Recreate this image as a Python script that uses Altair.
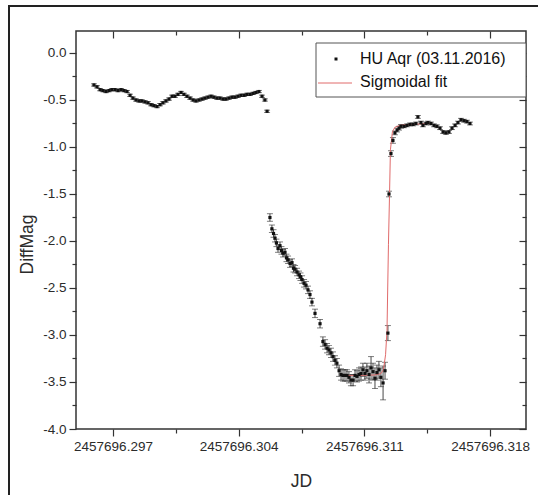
import altair as alt
import pandas as pd

JD0 = 2457696.0

# Out-of-eclipse (bright phase) photometry: JD - 2457696, DiffMag
bright_t = [0.29594, 0.29611, 0.29628, 0.29644, 0.29661, 0.29678, 0.29694, 0.29711, 0.29728, 0.29745,
            0.29761, 0.29778, 0.29795, 0.29811, 0.29828, 0.29845, 0.29861, 0.29878, 0.29895, 0.29912,
            0.29928, 0.29945, 0.29962, 0.29978, 0.29995, 0.30012, 0.30029, 0.30045, 0.30062, 0.30079,
            0.30095, 0.30112, 0.30129, 0.30146, 0.30162, 0.30179, 0.30196, 0.30212, 0.30229, 0.30246,
            0.30262, 0.30279, 0.30296, 0.30313, 0.30329, 0.30346, 0.30363, 0.30379, 0.30396, 0.30413,
            0.30430, 0.30446, 0.30463, 0.30480, 0.30496, 0.30513, 0.30530, 0.30546, 0.30558]
bright_mag = [-0.34, -0.36, -0.39, -0.40, -0.41, -0.40, -0.39, -0.39, -0.40, -0.39,
              -0.40, -0.41, -0.45, -0.48, -0.50, -0.51, -0.51, -0.52, -0.53, -0.55,
              -0.56, -0.57, -0.55, -0.53, -0.51, -0.49, -0.46, -0.46, -0.44, -0.42,
              -0.44, -0.46, -0.48, -0.50, -0.51, -0.50, -0.49, -0.48, -0.47, -0.46,
              -0.47, -0.48, -0.48, -0.49, -0.49, -0.48, -0.47, -0.47, -0.46, -0.45,
              -0.45, -0.44, -0.44, -0.43, -0.42, -0.41, -0.46, -0.50, -0.62]
bright_err = [0.012] * len(bright_t)

# Eclipse and egress photometry
ecl_t = [0.30574, 0.30585, 0.30594, 0.30602, 0.30610, 0.30619, 0.30630, 0.30638, 0.30647, 0.30658,
         0.30666, 0.30675, 0.30686, 0.30697, 0.30705, 0.30714, 0.30725, 0.30736, 0.30744, 0.30753,
         0.30764, 0.30775, 0.30786, 0.30797, 0.30808, 0.30825, 0.30853, 0.30869, 0.30881, 0.30892,
         0.30903, 0.30914, 0.30925, 0.30936, 0.30947, 0.30959, 0.30970, 0.30981, 0.30992, 0.31003,
         0.31014, 0.31025, 0.31037, 0.31048, 0.31059, 0.31070, 0.31081, 0.31092, 0.31103, 0.31114,
         0.31126, 0.31137, 0.31148, 0.31159, 0.31170, 0.31181, 0.31192, 0.31204, 0.31215, 0.31231,
         0.31237, 0.31248, 0.31259, 0.31270, 0.31282, 0.31293, 0.31304, 0.31321, 0.31337, 0.31354,
         0.31371, 0.31387, 0.31398, 0.31415, 0.31426, 0.31443, 0.31454, 0.31471, 0.31488, 0.31504,
         0.31521, 0.31538, 0.31554, 0.31571, 0.31588, 0.31605, 0.31621, 0.31638, 0.31655, 0.31671,
         0.31688]
ecl_mag = [-1.75, -1.87, -1.92, -1.97, -2.02, -2.08, -2.05, -2.10, -2.13, -2.12,
           -2.18, -2.20, -2.24, -2.23, -2.29, -2.30, -2.33, -2.36, -2.38, -2.41,
           -2.45, -2.47, -2.52, -2.57, -2.65, -2.77, -2.88, -3.07, -3.10, -3.14,
           -3.16, -3.19, -3.23, -3.27, -3.30, -3.38, -3.42, -3.43, -3.43, -3.43,
           -3.45, -3.48, -3.48, -3.43, -3.44, -3.42, -3.41, -3.37, -3.41, -3.38,
           -3.42, -3.35, -3.39, -3.46, -3.40, -3.37, -3.45, -3.51, -3.38, -2.98,
           -1.50, -1.07, -0.93, -0.85, -0.82, -0.80, -0.78, -0.78, -0.77, -0.76,
           -0.76, -0.75, -0.68, -0.74, -0.77, -0.75, -0.74, -0.75, -0.77, -0.78,
           -0.80, -0.84, -0.85, -0.84, -0.80, -0.77, -0.74, -0.71, -0.72, -0.73,
           -0.75]
ecl_err = [0.04, 0.04, 0.04, 0.04, 0.04, 0.04, 0.04, 0.04, 0.04, 0.04,
           0.04, 0.04, 0.04, 0.04, 0.04, 0.04, 0.04, 0.04, 0.04, 0.04,
           0.04, 0.04, 0.04, 0.04, 0.04, 0.045, 0.045, 0.05, 0.05, 0.05,
           0.05, 0.05, 0.05, 0.05, 0.05, 0.06, 0.06, 0.06, 0.06, 0.06,
           0.06, 0.06, 0.06, 0.06, 0.06, 0.07, 0.07, 0.07, 0.07, 0.08,
           0.09, 0.12, 0.09, 0.11, 0.08, 0.09, 0.10, 0.18, 0.09, 0.08,
           0.03, 0.03, 0.03, 0.02, 0.02, 0.02, 0.02, 0.015, 0.015, 0.015,
           0.015, 0.015, 0.015, 0.015, 0.015, 0.015, 0.015, 0.015, 0.015, 0.015,
           0.015, 0.015, 0.015, 0.015, 0.015, 0.015, 0.015, 0.015, 0.015, 0.015,
           0.015]

# Sigmoidal fit curve
fit_t = [0.30964, 0.31075, 0.31159, 0.31192, 0.31206, 0.31218, 0.31226, 0.31234,
         0.31240, 0.31245, 0.31256, 0.31270, 0.31298, 0.31354, 0.31465]
fit_mag = [-3.43, -3.43, -3.425, -3.41, -3.37, -3.21, -2.95, -2.04,
           -1.51, -1.03, -0.84, -0.79, -0.77, -0.76, -0.75]

x_major = [0.297, 0.304, 0.311, 0.318]
x_minor = [0.3005, 0.3075, 0.3145]
y_major = [-4.0, -3.5, -3.0, -2.5, -2.0, -1.5, -1.0, -0.5, 0.0]
y_minor = [-3.75, -3.25, -2.75, -2.25, -1.75, -1.25, -0.75, -0.25]

series_label = "HU Aqr (03.11.2016)"
fit_label = "Sigmoidal fit"

obs = pd.DataFrame({
    "t": bright_t + ecl_t,
    "mag": bright_mag + ecl_mag,
    "err": bright_err + ecl_err,
})
obs["jd"] = JD0 + obs["t"]
obs["lo"] = obs["mag"] - obs["err"]
obs["hi"] = obs["mag"] + obs["err"]

fit = pd.DataFrame({"t": fit_t, "mag": fit_mag})
fit["jd"] = JD0 + fit["t"]

one = pd.DataFrame({"a": [0]})

xs = alt.Scale(domain=[JD0 + 0.29494, JD0 + 0.3200], nice=False, zero=False)
ys = alt.Scale(domain=[-4.0, 0.234], nice=False, zero=False)

FONT = "Liberation Sans"
TXT = "#2b2b2b"
style = dict(grid=False, domain=False, tickColor="#333333", tickWidth=1.2,
             labelColor=TXT, labelFont=FONT, labelFontSize=13.5,
             titleFont=FONT, titleFontSize=17.5, titleFontWeight="normal", titleColor=TXT)

xvals_major = [JD0 + v for v in x_major]
xvals_minor = [JD0 + v for v in x_minor]

ax_bottom = alt.Axis(orient="bottom", values=xvals_major, tickSize=7,
                     labelExpr="format(datum.value, '.3f')", labelPadding=3,
                     title="JD", titlePadding=20, **style)
ax_left = alt.Axis(orient="left", values=y_major, tickSize=7,
                   labelExpr="datum.value < 0 ? '-' + format(-datum.value, '.1f') : format(datum.value, '.1f')",
                   labelPadding=3, title="DiffMag", titlePadding=6, titleY=213, **style)
ax_bottom_minor = alt.Axis(orient="bottom", values=xvals_minor, tickSize=4, labels=False, title=None, **style)
ax_left_minor = alt.Axis(orient="left", values=y_minor, tickSize=4, labels=False, title=None, **style)
ax_top = alt.Axis(orient="top", values=xvals_major, tickSize=7, offset=-7, labels=False, title=None, **style)
ax_right = alt.Axis(orient="right", values=y_major, tickSize=7, offset=-7, labels=False, title=None, **style)
ax_top_minor = alt.Axis(orient="top", values=xvals_minor, tickSize=4, offset=-4, labels=False, title=None, **style)
ax_right_minor = alt.Axis(orient="right", values=y_minor, tickSize=4, offset=-4, labels=False, title=None, **style)

frame = alt.Chart(one).mark_rect(fillOpacity=0, stroke="#222222", strokeWidth=2).encode(
    x=alt.value(-67), x2=alt.value(480), y=alt.value(-25), y2=alt.value(480))

errbars = alt.Chart(obs).mark_errorbar(ticks={"size": 6}, color="#333333", thickness=0.9).encode(
    x=alt.X("jd:Q", scale=xs, axis=None),
    y=alt.Y("lo:Q", scale=ys, axis=None),
    y2="hi:Q")

fit_line = alt.Chart(fit).mark_line(color="#e06a6a", strokeWidth=1).encode(
    x=alt.X("jd:Q", scale=xs, axis=None),
    y=alt.Y("mag:Q", scale=ys, axis=None))

points = alt.Chart(obs).mark_square(size=10, color="#111111", opacity=1).encode(
    x=alt.X("jd:Q", scale=xs, axis=ax_bottom),
    y=alt.Y("mag:Q", scale=ys, axis=ax_left))

def axis_layer(ax_x, ax_y):
    return alt.Chart(obs).mark_point(opacity=0).encode(
        x=alt.X("jd:Q", scale=xs, axis=ax_x),
        y=alt.Y("mag:Q", scale=ys, axis=ax_y))

l_minor = axis_layer(ax_bottom_minor, ax_left_minor)
l_top = axis_layer(ax_top, ax_right)
l_top_minor = axis_layer(ax_top_minor, ax_right_minor)

leg_box = alt.Chart(one).mark_rect(fill="white", stroke="#555555", strokeWidth=1).encode(
    x=alt.value(240), x2=alt.value(450), y=alt.value(12), y2=alt.value(66))
leg_dot = alt.Chart(one).mark_square(size=9, color="#111111", opacity=1).encode(
    x=alt.value(260), y=alt.value(28))
leg_line = alt.Chart(one).mark_rule(color="#e06a6a", strokeWidth=1).encode(
    x=alt.value(242), x2=alt.value(276), y=alt.value(52))
leg_t1 = alt.Chart(one).mark_text(align="left", baseline="middle", fontSize=16, font=FONT, color="#111111").encode(
    x=alt.value(284), y=alt.value(28), text=alt.value(series_label))
leg_t2 = alt.Chart(one).mark_text(align="left", baseline="middle", fontSize=16, font=FONT, color="#111111").encode(
    x=alt.value(284), y=alt.value(51), text=alt.value(fit_label))

chart = alt.layer(
    frame, errbars, fit_line, points, l_minor, l_top, l_top_minor,
    leg_box, leg_dot, leg_line, leg_t1, leg_t2
).resolve_scale(x="shared", y="shared").resolve_axis(x="independent", y="independent").properties(
    width=450, height=398,
    autosize=alt.AutoSizeParams(type="none"),
    padding={"left": 76, "top": 31, "right": 12, "bottom": 66},
    background="white",
).configure_view(stroke="#333333", strokeWidth=1.5)

chart.save("out.html", embed_options={"renderer": "svg", "actions": False})
